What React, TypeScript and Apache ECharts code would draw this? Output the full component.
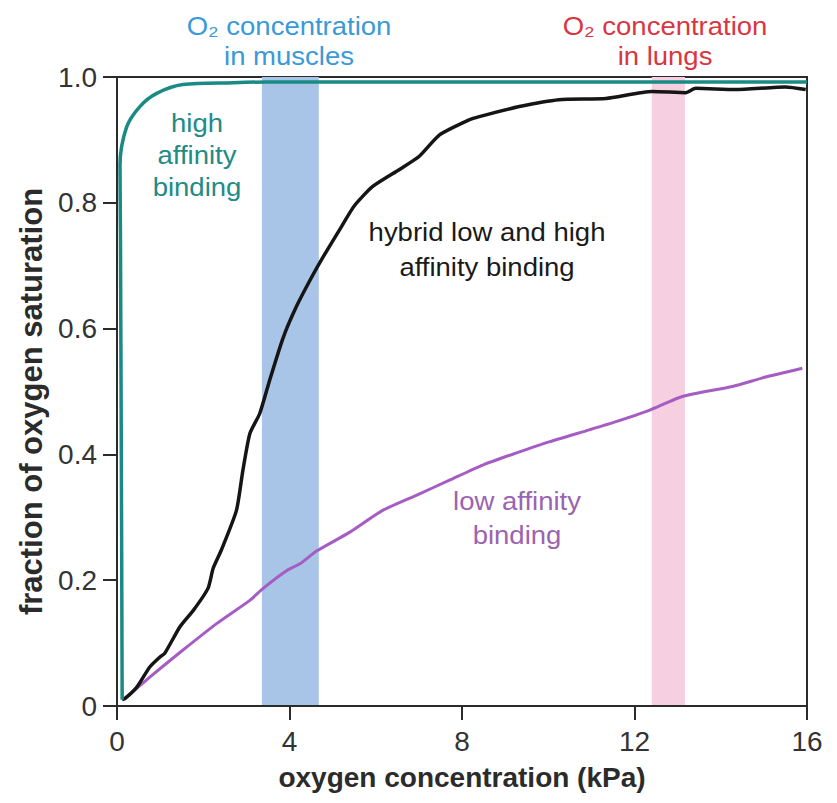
import React, { useEffect, useRef } from "react";
import * as echarts from "echarts";

// ---- data ----
const xTicks = [0, 4, 8, 12, 16];
const yTicks = [0, 0.2, 0.4, 0.6, 0.8, 1.0];

const highX = [0.12, 0.1, 0.08, 0.07, 0.22, 0.53, 0.92, 1.53, 2.7, 3.47, 5, 8, 12, 16];
const highY = [0.01, 0.4, 0.75, 0.86, 0.92, 0.953, 0.974, 0.988, 0.991, 0.992, 0.992, 0.992, 0.992, 0.992];

const hybridX = [0.12, 0.19, 0.46, 0.76, 1.0, 1.11, 1.46, 1.77, 2.11, 2.23, 2.42, 2.77, 2.92, 3.08, 3.31, 3.54, 3.85, 4.16, 4.5, 4.78, 5.16, 5.5, 5.93, 6.55, 7.01, 7.48, 8.17, 8.4, 9.33, 10.25, 11.34, 12.41, 13.19, 13.42, 14.34, 15.5, 15.97];
const hybridY = [0.01, 0.012, 0.03, 0.062, 0.078, 0.084, 0.126, 0.152, 0.187, 0.219, 0.248, 0.311, 0.375, 0.433, 0.465, 0.518, 0.585, 0.635, 0.68, 0.714, 0.757, 0.795, 0.826, 0.853, 0.874, 0.908, 0.932, 0.937, 0.953, 0.964, 0.966, 0.977, 0.975, 0.982, 0.98, 0.984, 0.98];

const lowX = [0.12, 0.22, 0.76, 1.53, 2.31, 3.08, 3.39, 3.93, 4.24, 4.62, 5.39, 6.16, 6.94, 7.71, 8.48, 9.25, 10.02, 10.95, 11.57, 12.34, 13.11, 14.27, 15.04, 15.89];
const lowY = [0.01, 0.014, 0.046, 0.089, 0.131, 0.168, 0.187, 0.215, 0.226, 0.246, 0.276, 0.311, 0.335, 0.359, 0.383, 0.402, 0.42, 0.439, 0.452, 0.47, 0.492, 0.508, 0.523, 0.537];

const musclesBand = [3.36, 4.68];
const lungsBand = [12.4, 13.17];

const FONT = "'Liberation Sans', Arial, Helvetica, sans-serif";

const pairs = (xs: number[], ys: number[]) => xs.map((x, i) => [x, ys[i]]);

export default function App() {
  const ref = useRef<HTMLDivElement>(null);
  useEffect(() => {
    if (!ref.current) return;
    const chart = echarts.init(ref.current, undefined, { renderer: "svg" });
    const axisColor = "#2b2b2b";
    const txt = (
      text: string,
      x: number,
      y: number,
      fill: string,
      size: number,
      lh: number,
      sx = 1
    ) => ({
      type: "text",
      x,
      y,
      scaleX: sx,
      z: 10,
      style: {
        text,
        x: 0,
        y: 0,
        fill,
        font: `${size}px ${FONT}`,
        align: "center",
        verticalAlign: "middle",
        lineHeight: lh,
      },
    });
    chart.setOption({
      animation: false,
      backgroundColor: "#ffffff",
      grid: {
        left: 117,
        right: 30,
        top: 77,
        bottom: 97,
        show: true,
        borderColor: axisColor,
        borderWidth: 2,
        backgroundColor: "transparent",
      },
      xAxis: {
        type: "value",
        min: 0,
        max: 16,
        interval: 4,
        z: 5,
        axisLine: { show: true, onZero: false, lineStyle: { color: axisColor, width: 2 } },
        axisTick: { show: true, inside: false, length: 14, lineStyle: { color: axisColor, width: 2 } },
        axisLabel: {
          fontSize: 28,
          fontFamily: FONT,
          color: "#333",
          margin: 21,
          customValues: xTicks,
        },
        splitLine: { show: false },
        name: "oxygen concentration (kPa)",
        nameLocation: "middle",
        nameGap: 57,
        nameTextStyle: { fontSize: 28, fontWeight: "bold", fontFamily: FONT, color: "#2b2b2b" },
      },
      yAxis: {
        type: "value",
        min: 0,
        max: 1,
        interval: 0.2,
        z: 5,
        axisLine: { show: true, onZero: false, lineStyle: { color: axisColor, width: 2 } },
        axisTick: { show: true, inside: false, length: 14, lineStyle: { color: axisColor, width: 2 } },
        axisLabel: {
          fontSize: 28,
          fontFamily: FONT,
          color: "#333",
          margin: 20,
          customValues: yTicks,
          formatter: (v: number) => (v === 0 ? "0" : v.toFixed(1)),
        },
        splitLine: { show: false },
        name: "fraction of oxygen saturation",
        nameLocation: "middle",
        nameGap: 66,
        nameTextStyle: {
          fontSize: 31,
          fontWeight: "bold",
          fontFamily: FONT,
          color: "#2b2b2b",
          padding: [0, 20, 0, 0],
        },
      },
      series: [
        {
          type: "line",
          name: "bands",
          data: [],
          z: 1,
          silent: true,
          markArea: {
            silent: true,
            data: [
              [
                { xAxis: musclesBand[0], yAxis: 0, itemStyle: { color: "#a8c4e6", opacity: 1 } },
                { xAxis: musclesBand[1], yAxis: 1 },
              ],
              [
                { xAxis: lungsBand[0], yAxis: 0, itemStyle: { color: "#f6d0e1", opacity: 1 } },
                { xAxis: lungsBand[1], yAxis: 1 },
              ],
            ],
          },
        },
        {
          type: "line",
          name: "low affinity binding",
          data: pairs(lowX, lowY),
          showSymbol: false,
          smooth: 0.2,
          z: 3,
          lineStyle: { color: "#a55dc4", width: 3 },
        },
        {
          type: "line",
          name: "hybrid low and high affinity binding",
          data: pairs(hybridX, hybridY),
          showSymbol: false,
          smooth: 0.2,
          z: 3,
          lineStyle: { color: "#151515", width: 3.5 },
        },
        {
          type: "line",
          name: "high affinity binding",
          data: pairs(highX, highY),
          showSymbol: false,
          smooth: 0.3,
          z: 3,
          lineStyle: { color: "#1a8a84", width: 3.5 },
        },
      ],
      graphic: [
        txt("O₂ concentration\nin muscles", 289, 41, "#3a9ad6", 25, 30, 1.1),
        txt("O₂ concentration\nin lungs", 665, 41, "#d9363f", 25, 30, 1.1),
        txt("high\naffinity\nbinding", 197, 155, "#218b85", 25, 32, 1.1),
        txt("hybrid low and high\naffinity binding", 487, 250, "#1a1a1a", 25, 35, 1.1),
        txt("low affinity\nbinding", 517, 518, "#9b64b0", 25, 34, 1.1),
      ],
    });
    return () => chart.dispose();
  }, []);
  return (
    <div
      ref={ref}
      style={{ position: "fixed", left: 0, top: 0, width: 837, height: 803, background: "#fff" }}
    />
  );
}
